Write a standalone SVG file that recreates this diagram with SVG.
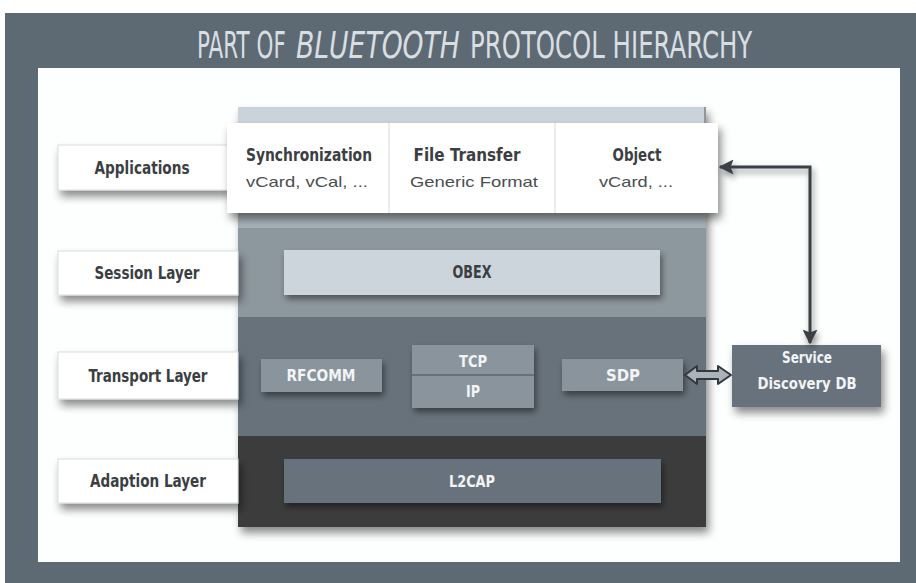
<svg xmlns="http://www.w3.org/2000/svg" width="916" height="583" viewBox="0 0 916 583">
<defs>
<filter id="sh" x="-20%" y="-30%" width="150%" height="190%">
<feDropShadow dx="3" dy="6" stdDeviation="4" flood-color="#000" flood-opacity="0.45"/>
</filter>
<filter id="shs" x="-20%" y="-30%" width="150%" height="190%">
<feDropShadow dx="2" dy="4" stdDeviation="3" flood-color="#000" flood-opacity="0.45"/>
</filter>
<marker id="ah" viewBox="0 0 10 10" refX="9" refY="5" markerWidth="5" markerHeight="5" orient="auto-start-reverse" markerUnits="strokeWidth">
<path d="M0,0 L10,5 L0,10 L2,5 Z" fill="#3a3f44"/>
</marker>
</defs>
<style>
.lab{font-family:"DejaVu Sans","Liberation Sans",sans-serif;font-stretch:condensed;font-weight:bold;font-size:17px;fill:#3b3e42;text-anchor:middle}
.reg{font-family:"Liberation Sans",Arial,sans-serif;font-size:15px;fill:#4a4d51;text-anchor:middle}
.wt{font-family:"DejaVu Sans","Liberation Sans",sans-serif;font-stretch:condensed;font-weight:bold;font-size:16px;fill:#f2f4f6;text-anchor:middle}
.ttl{font-family:"DejaVu Sans","Liberation Sans",sans-serif;font-size:37px;fill:#d9dee3}
.lbox{fill:#ffffff;stroke:#d8dcdf;stroke-width:1}
</style>
<rect x="0" y="0" width="916" height="583" fill="#ffffff"/>
<rect x="5" y="13" width="911" height="570" fill="#5e6a73"/>
<rect x="38" y="68" width="862" height="494" fill="#fdfefe"/>
<text class="ttl" x="0" y="0" transform="translate(197,58) scale(0.58,1)">PART OF</text>
<text class="ttl" x="0" y="0" font-style="italic" transform="translate(296,58) scale(0.72,1)">BLUETOOTH</text>
<text class="ttl" x="0" y="0" transform="translate(470,58) scale(0.66,1)">PROTOCOL HIERARCHY</text>

<g id="stack">
<rect x="238" y="107" width="468" height="420" fill="#8d979e" filter="url(#sh)"/>
<rect x="238" y="107" width="466" height="16" fill="#c9d3d9"/>
<rect x="238" y="213" width="468" height="15" fill="#a8b1b7"/>
<rect x="238" y="317" width="468" height="120" fill="#67727b"/>
<rect x="238" y="436" width="468" height="91" fill="#3c3c3c"/>
</g>

<g id="applications-label"><rect class="lbox" x="58" y="145" width="172" height="45" filter="url(#sh)"/><text class="lab" x="142" y="174" textLength="95" lengthAdjust="spacingAndGlyphs">Applications</text></g>
<g id="session-label"><rect class="lbox" x="58" y="251" width="180" height="44" filter="url(#sh)"/><text class="lab" x="147" y="279" textLength="105" lengthAdjust="spacingAndGlyphs">Session Layer</text></g>
<g id="transport-label"><rect class="lbox" x="58" y="352" width="180" height="47" filter="url(#sh)"/><text class="lab" x="148" y="382" textLength="119" lengthAdjust="spacingAndGlyphs">Transport Layer</text></g>
<g id="adaption-label"><rect class="lbox" x="58" y="459" width="180" height="44" filter="url(#sh)"/><text class="lab" x="148" y="487" textLength="116" lengthAdjust="spacingAndGlyphs">Adaption Layer</text></g>

<g id="apps">
<rect x="227" y="123" width="491" height="90" fill="#ffffff" filter="url(#sh)"/>
<line x1="389" y1="123" x2="389" y2="213" stroke="#d5d9dc"/>
<line x1="555" y1="123" x2="555" y2="213" stroke="#d5d9dc"/>
<text class="lab" x="309" y="161" textLength="126" lengthAdjust="spacingAndGlyphs">Synchronization</text>
<text class="reg" x="307" y="187" textLength="122" lengthAdjust="spacingAndGlyphs">vCard, vCal, ...</text>
<text class="lab" x="467" y="161" textLength="107" lengthAdjust="spacingAndGlyphs">File Transfer</text>
<text class="reg" x="474" y="187" textLength="128" lengthAdjust="spacingAndGlyphs">Generic Format</text>
<text class="lab" x="637" y="161" textLength="49" lengthAdjust="spacingAndGlyphs">Object</text>
<text class="reg" x="636" y="187" textLength="74" lengthAdjust="spacingAndGlyphs">vCard, ...</text>
</g>

<g id="obex"><rect x="284" y="250" width="376" height="45" fill="#ccd5db" filter="url(#shs)"/><text class="lab" x="472" y="278" font-size="15" textLength="39" lengthAdjust="spacingAndGlyphs">OBEX</text></g>
<g id="rfcomm"><rect x="261" y="359" width="121" height="33" fill="#8a949c" filter="url(#shs)"/><text class="wt" x="321" y="381" textLength="69" lengthAdjust="spacingAndGlyphs">RFCOMM</text></g>
<g id="tcpip"><rect x="412" y="345" width="122" height="63" fill="#8a949c" filter="url(#shs)"/><line x1="412" y1="375" x2="534" y2="375" stroke="#5c666e" stroke-width="1.5"/><text class="wt" x="473" y="367" textLength="28" lengthAdjust="spacingAndGlyphs">TCP</text><text class="wt" x="473" y="397" textLength="14" lengthAdjust="spacingAndGlyphs">IP</text></g>
<g id="sdp"><rect x="562" y="359" width="121" height="32" fill="#8a949c" filter="url(#shs)"/><text class="wt" x="623" y="381" textLength="34" lengthAdjust="spacingAndGlyphs">SDP</text></g>
<g id="l2cap"><rect x="284" y="459" width="377" height="44" fill="#67727b" filter="url(#shs)"/><text class="wt" x="472" y="487" fill="#dfe4e8" textLength="46" lengthAdjust="spacingAndGlyphs">L2CAP</text></g>
<g id="sddb"><rect x="732" y="345" width="149" height="62" fill="#67727b" filter="url(#sh)"/><text class="wt" x="807" y="363" textLength="50" lengthAdjust="spacingAndGlyphs">Service</text><text class="wt" x="807" y="389" textLength="99" lengthAdjust="spacingAndGlyphs">Discovery DB</text></g>

<g id="connectors">
<path d="M720,167 L810,167 L810,343" fill="none" stroke="#3a3f44" stroke-width="3" marker-start="url(#ah)" marker-end="url(#ah)" filter="url(#shs)"/>
<polygon points="685,375 697,366 697,371 718,371 718,366 731,375 718,384 718,379 697,379 697,384" fill="#aab3b9" stroke="#33383c" stroke-width="2" stroke-linejoin="round"/>
</g>
</svg>
